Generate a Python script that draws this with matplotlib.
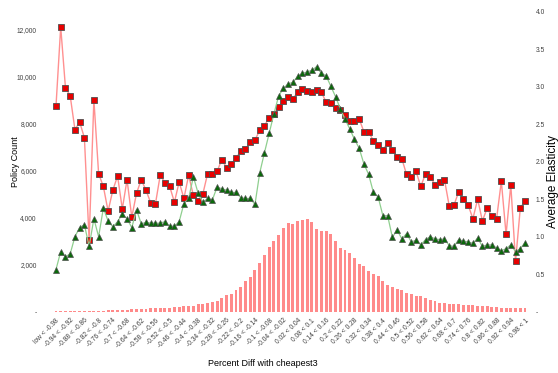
import numpy as np
import matplotlib
matplotlib.use("Agg")
import matplotlib.pyplot as plt
from matplotlib.ticker import FuncFormatter

plt.rcParams['font.family'] = ['Liberation Sans', 'DejaVu Sans']

# bins of percent diff: "low < -0.98", then 0.02 wide bins up to "0.98 < 1"
edges = [round(-0.98 + 0.02 * k, 2) for k in range(100)]
categories = ["low < -0.98"] + [f"{a:g} < {b:g}" for a, b in zip(edges[:-1], edges[1:])]

policy_count = [
    30, 10, 15, 10, 15, 10, 30, 15, 30, 40, 40, 50, 50, 60, 70, 80, 90, 90, 100, 110,
    140, 140, 170, 140, 170, 200, 200, 220, 230, 250, 300, 320, 350, 400, 460, 590, 690, 760, 900, 1050,
    1300, 1490, 1760, 2050, 2400, 2760, 3000, 3250, 3540, 3790, 3730, 3840, 3900, 3930, 3820, 3500, 3430, 3420, 3290, 3000,
    2700, 2610, 2480, 2280, 2030, 1920, 1740, 1610, 1500, 1320, 1120, 1060, 970, 900, 770, 750, 660, 640, 570, 500,
    450, 350, 350, 340, 330, 300, 290, 280, 260, 250, 240, 230, 200, 180, 170, 160, 150, 150, 140, 140,
]

elasticity_red = [
    2.74, 3.80, 2.99, 2.88, 2.43, 2.53, 2.32, 0.95, 2.83, 1.84, 1.67, 1.34, 1.62, 1.81, 1.37, 1.76, 1.26, 1.58, 1.76, 1.62,
    1.45, 1.44, 1.82, 1.72, 1.67, 1.46, 1.73, 1.51, 1.82, 1.55, 1.48, 1.57, 1.84, 1.84, 1.87, 2.03, 1.92, 1.97, 2.05, 2.14,
    2.17, 2.26, 2.29, 2.42, 2.48, 2.59, 2.64, 2.73, 2.81, 2.86, 2.84, 2.93, 2.97, 2.94, 2.93, 2.96, 2.93, 2.80, 2.79, 2.72,
    2.69, 2.63, 2.55, 2.55, 2.57, 2.40, 2.40, 2.28, 2.22, 2.16, 2.25, 2.16, 2.07, 2.04, 1.83, 1.80, 1.87, 1.67, 1.84, 1.80,
    1.69, 1.73, 1.76, 1.41, 1.42, 1.60, 1.50, 1.42, 1.24, 1.50, 1.21, 1.38, 1.27, 1.24, 1.74, 1.03, 1.69, 0.67, 1.38, 1.48,
]

elasticity_green = [
    0.56, 0.80, 0.73, 0.77, 1.00, 1.12, 1.16, 0.87, 1.24, 1.00, 1.38, 1.21, 1.13, 1.20, 1.30, 1.24, 1.12, 1.36, 1.17, 1.19,
    1.18, 1.18, 1.18, 1.20, 1.14, 1.14, 1.20, 1.44, 1.51, 1.80, 1.58, 1.46, 1.51, 1.49, 1.66, 1.64, 1.62, 1.59, 1.59, 1.52,
    1.51, 1.51, 1.43, 1.85, 2.12, 2.38, 2.64, 2.88, 2.98, 3.04, 3.06, 3.14, 3.18, 3.20, 3.22, 3.27, 3.18, 3.15, 3.01, 2.87,
    2.71, 2.57, 2.44, 2.30, 2.18, 1.97, 1.83, 1.59, 1.53, 1.28, 1.28, 0.99, 1.09, 0.97, 1.04, 0.93, 0.95, 0.89, 0.96, 1.00,
    0.97, 0.96, 0.97, 0.88, 0.87, 0.96, 0.94, 0.93, 0.91, 0.98, 0.87, 0.89, 0.89, 0.85, 0.81, 0.84, 0.89, 0.80, 0.84, 0.92,
]

x = np.arange(len(categories))
label_col = '#404040'
tick_fs = 4.8

fig = plt.figure(figsize=(5.58, 3.73), dpi=100)
ax = fig.add_axes([46.5 / 558, 61.5 / 373, 488 / 558, 299.5 / 373])
ax2 = ax.twinx()

ax.bar(x, policy_count, width=0.62, color='#ff8a8a', zorder=2)
ax.set_ylim(0, 12766)
ax.set_yticks(range(0, 12001, 2000))
ax.yaxis.set_major_formatter(FuncFormatter(lambda v, p: '-' if v == 0 else f'{int(v):,}'))

ax2.plot(x, elasticity_red, color='#ff9090', lw=1.0, marker='s', ms=4.6,
         mfc='#e80000', mec='#505050', mew=0.6, zorder=3)
ax2.plot(x, elasticity_green, color='#8fcf8f', lw=0.9, marker='^', ms=4.6,
         mfc='#0a6a0a', mec='#505050', mew=0.5, zorder=4)
ax2.set_ylim(0, 4)
ax2.set_yticks(np.arange(0, 4.01, 0.5))
ax2.yaxis.set_major_formatter(FuncFormatter(lambda v, p: '-' if v == 0 else f'{v:.1f}'))

ax.set_xlim(-2, 101)
ax.set_xticks(x[::3])
ax.set_xticklabels(categories[::3], rotation=45, ha='right', va='top',
                   rotation_mode='anchor', fontsize=tick_fs, color=label_col)

for a in (ax, ax2):
    for s in a.spines.values():
        s.set_visible(False)
ax.tick_params(axis='both', length=0)
ax.tick_params(axis='x', pad=4)
ax.tick_params(axis='y', labelsize=tick_fs, labelcolor=label_col, pad=7)
ax2.tick_params(axis='y', length=0, labelsize=tick_fs, labelcolor=label_col, pad=1)

fig.text(16 / 558, 1 - 162 / 373, 'Policy Count', rotation=90, ha='center', va='center', fontsize=6.5)
fig.text(553 / 558, 1 - 181 / 373, 'Average Elasticity', rotation=90, ha='center', va='center', fontsize=8.5)
fig.text(263 / 558, 1 - 363 / 373, 'Percent Diff with cheapest3', ha='center', va='center', fontsize=6.5)

fig.savefig('out.png', dpi=100)
